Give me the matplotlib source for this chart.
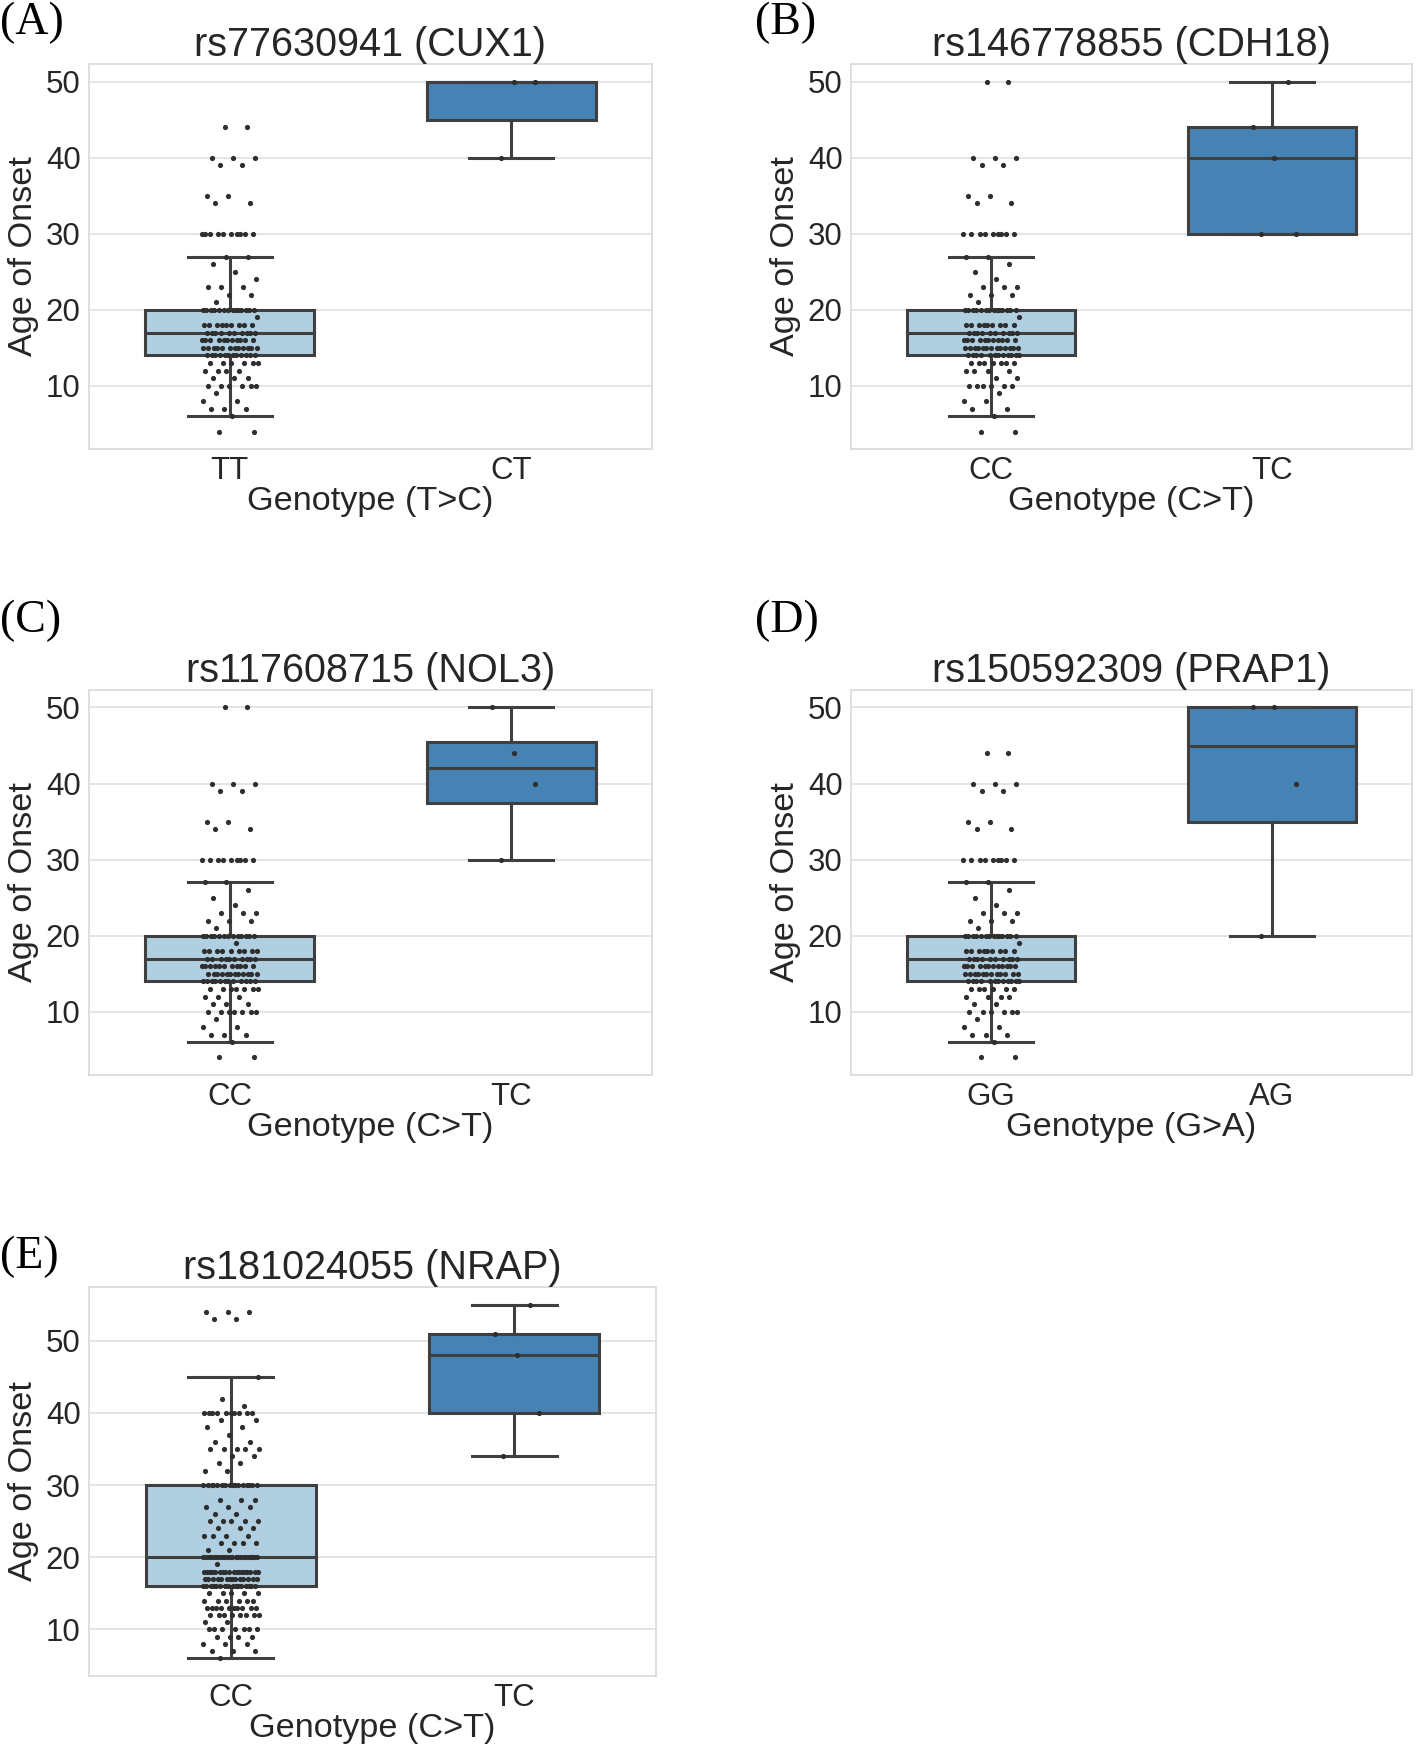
import numpy as np
import matplotlib.pyplot as plt

plt.rcParams['font.family'] = ['Liberation Sans', 'DejaVu Sans']

# age of onset values and how many patients have each, per genotype group
a_tt_ages = [4, 6, 7, 8, 9, 10, 11, 12, 13, 14, 15, 16, 17, 18, 19, 20, 21, 22, 23, 24, 25, 26, 27, 30, 34, 35, 39, 40, 44]
a_tt_counts = [2, 1, 3, 2, 1, 6, 3, 4, 6, 12, 12, 11, 10, 9, 1, 14, 1, 2, 3, 1, 1, 1, 2, 10, 2, 2, 2, 3, 2]
a_ct_ages = [40, 50, 50]

b_cc_ages = [4, 6, 7, 8, 9, 10, 11, 12, 13, 14, 15, 16, 17, 18, 19, 20, 21, 22, 23, 24, 25, 26, 27, 30, 34, 35, 39, 40, 50]
b_cc_counts = [2, 1, 2, 2, 1, 6, 2, 4, 7, 12, 13, 11, 10, 9, 1, 14, 1, 3, 3, 1, 1, 1, 2, 9, 2, 2, 2, 3, 2]
b_tc_ages = [30, 30, 40, 44, 50]

c_cc_ages = [4, 6, 7, 8, 9, 10, 11, 12, 13, 14, 15, 16, 17, 18, 19, 20, 21, 22, 23, 24, 25, 26, 27, 30, 34, 35, 39, 40, 50]
c_cc_counts = [2, 1, 3, 2, 1, 7, 3, 3, 7, 12, 12, 11, 10, 9, 1, 13, 1, 3, 3, 1, 1, 1, 2, 9, 2, 2, 2, 3, 2]
c_tc_ages = [30, 40, 44, 50]

d_gg_ages = [4, 6, 7, 8, 9, 10, 11, 12, 13, 14, 15, 16, 17, 18, 19, 20, 21, 22, 23, 24, 25, 26, 27, 30, 34, 35, 39, 40, 44]
d_gg_counts = [2, 1, 3, 2, 1, 6, 2, 4, 6, 12, 12, 12, 10, 9, 1, 14, 1, 3, 3, 1, 1, 1, 2, 9, 2, 2, 2, 3, 2]
d_ag_ages = [20, 40, 50, 50]

e_cc_ages = [6, 7, 8, 9, 10, 11, 12, 13, 14, 15, 16, 17, 18, 19, 20, 21, 22, 23, 24, 25, 26, 27, 28, 30,
             32, 33, 34, 35, 36, 37, 38, 39, 40, 41, 42, 45, 53, 54]
e_cc_counts = [1, 3, 3, 4, 7, 2, 8, 10, 6, 5, 16, 14, 18, 1, 22, 2, 4, 4, 3, 5, 2, 3, 3, 16,
               2, 2, 2, 5, 2, 1, 2, 2, 10, 1, 1, 1, 2, 3]
e_tc_ages = [34, 40, 48, 51, 55]

LIGHT = '#b0cfe1'
DARK = '#4682b4'
EDGE = '#3f3f3f'
TEXT = '#262626'

W_PX, H_PX = 1418, 1753


def px_rect(left, top, right, bottom):
    return [left / W_PX, 1 - bottom / H_PX, (right - left) / W_PX, (bottom - top) / H_PX]


def jitter(n, width=0.1):
    # deterministic spread of the strip points (golden ratio sequence)
    k = np.arange(n)
    return ((k * 0.6180339887 + 0.31) % 1.0 - 0.5) * 2 * width


def box_strip(ax, groups, labels, title, xlabel):
    colors = [LIGHT, DARK]
    line = dict(color=EDGE, linewidth=2.2)
    bp = ax.boxplot(groups, positions=[0, 1], widths=0.6, whis=1.5, showfliers=False,
                    patch_artist=True, medianprops=line, whiskerprops=line,
                    capprops=line, boxprops=dict(edgecolor=EDGE, linewidth=2.2),
                    zorder=2)
    for patch, c in zip(bp['boxes'], colors):
        patch.set_facecolor(c)
    for i, g in enumerate(groups):
        vals = np.sort(np.asarray(g, dtype=float))
        ax.scatter(i + jitter(len(vals)), vals, s=14, color='#2e2e2e', linewidths=0, zorder=3)

    ax.set_xlim(-0.5, 1.5)
    ax.set_xticks([0, 1])
    ax.set_xticklabels(labels)
    ax.set_yticks([10, 20, 30, 40, 50])
    ax.grid(axis='y', color='#e2e2e2', linewidth=1.3, zorder=0)
    ax.set_axisbelow(True)
    for sp in ax.spines.values():
        sp.set_color('#dcdcdc')
        sp.set_linewidth(1.3)
    ax.tick_params(length=0, labelsize=22.5, labelcolor=TEXT)
    ax.tick_params(axis='y', pad=6)
    ax.tick_params(axis='x', pad=5)
    ax.set_title(title, fontsize=28.5, color=TEXT, pad=5)
    ax.set_xlabel(xlabel, fontsize=24.7, color=TEXT, labelpad=0)
    ax.set_ylabel('Age of Onset', fontsize=24.7, color=TEXT, labelpad=5)


fig = plt.figure(figsize=(W_PX / 100, H_PX / 100), dpi=100)

panels = [
    ('(A)', (0, 2), px_rect(89, 64, 652, 449),
     [np.repeat(a_tt_ages, a_tt_counts), a_ct_ages], ['TT', 'CT'],
     'rs77630941 (CUX1)', 'Genotype (T>C)'),
    ('(B)', (755, 2), px_rect(851, 64, 1412, 449),
     [np.repeat(b_cc_ages, b_cc_counts), b_tc_ages], ['CC', 'TC'],
     'rs146778855 (CDH18)', 'Genotype (C>T)'),
    ('(C)', (0, 600), px_rect(89, 690, 652, 1075),
     [np.repeat(c_cc_ages, c_cc_counts), c_tc_ages], ['CC', 'TC'],
     'rs117608715 (NOL3)', 'Genotype (C>T)'),
    ('(D)', (755, 600), px_rect(851, 690, 1412, 1075),
     [np.repeat(d_gg_ages, d_gg_counts), d_ag_ages], ['GG', 'AG'],
     'rs150592309 (PRAP1)', 'Genotype (G>A)'),
    ('(E)', (0, 1236), px_rect(89, 1287, 656, 1676),
     [np.repeat(e_cc_ages, e_cc_counts), e_tc_ages], ['CC', 'TC'],
     'rs181024055 (NRAP)', 'Genotype (C>T)'),
]

for letter, (lx, ly), rect, groups, labels, title, xlabel in panels:
    ax = fig.add_axes(rect)
    box_strip(ax, groups, labels, title, xlabel)
    fig.text(lx / W_PX, 1 - ly / H_PX, letter, family='Liberation Serif',
             fontsize=33, va='top', ha='left', color='black')

fig.savefig('out.png', dpi=100, facecolor='white')
